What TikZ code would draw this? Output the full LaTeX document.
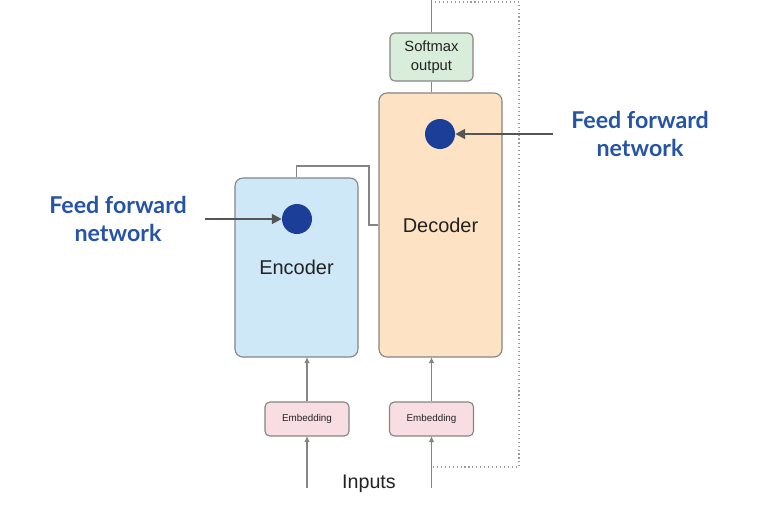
\documentclass[tikz,border=0pt]{standalone}
\usepackage{fontspec}
\setmainfont{Liberation Sans}
\newfontfamily\latofont{Lato}
\usetikzlibrary{arrows.meta}
\definecolor{encfill}{HTML}{CFE8F7}
\definecolor{decfill}{HTML}{FDE2C3}
\definecolor{softfill}{HTML}{D8EEDA}
\definecolor{embfill}{HTML}{F8DDE3}
\definecolor{edgegray}{HTML}{858585}
\definecolor{textgray}{HTML}{222222}
\definecolor{dotblue}{HTML}{1B3F98}
\definecolor{ffblue}{HTML}{2553A6}
\definecolor{arrowgray}{HTML}{555555}
\tikzset{
  block/.style={draw=edgegray, line width=0.8pt, rounded corners=0.2cm, inner sep=0pt, text=textgray, font=\fontsize{14.2}{16}\selectfont},
  smallblock/.style={block, rounded corners=0.12cm, font=\fontsize{7}{8}\selectfont},
  ffdot/.style={circle, fill=dotblue, minimum size=0.75cm, inner sep=0pt},
  fflabel/.style={text=ffblue, align=center, font=\latofont\bfseries\fontsize{16.5}{19.5}\selectfont},
  ffarrow/.style={draw=arrowgray, line width=1.4pt, -{Triangle[length=7pt,width=7pt]}},
  wire/.style={draw=edgegray, line width=0.8pt},
  feed/.style={wire, -{Triangle[length=4pt,width=3.5pt]}},
  loopwire/.style={draw=edgegray!80, line width=0.8pt, dotted}
}
\begin{document}
\begin{tikzpicture}[x=0.025cm, y=-0.025cm]
			%%%%% START %%%%%
			\useasboundingbox (0, 0) rectangle (776, 508);
			
			\node[block, fill=encfill, minimum width=3.075cm, minimum height=4.475cm] (encoder) at (296.5, 267.5) {Encoder};
			\node[block, fill=decfill, minimum width=3.075cm, minimum height=6.6cm] (decoder) at (440.5, 225) {Decoder};
			\node[smallblock, fill=softfill, minimum width=2.075cm, minimum height=1.2cm, align=center, font=\fontsize{10.5}{13.5}\selectfont] (softmax) at (431.5, 57) {Softmax\\output};
			\node[smallblock, fill=embfill, minimum width=2.1cm, minimum height=0.85cm] (embenc) at (307, 419) {Embedding};
			\node[smallblock, fill=embfill, minimum width=2.1cm, minimum height=0.85cm] (embdec) at (431.5, 419) {Embedding};
			
			\node[ffdot] (encdot) at (297, 219) {};
			\node[ffdot] (decdot) at (440, 134) {};
			
			\node[fflabel] (ffenc) at (118, 219) {Feed forward\\network};
			\node[fflabel] (ffdec) at (640, 134) {Feed forward\\network};
			\coordinate (ffencstart) at (205, 219);
			\coordinate (ffdecstart) at (553, 134);
			\draw[ffarrow] (ffencstart) -- (encdot);
			\draw[ffarrow] (ffdecstart) -- (decdot);
			
			\coordinate (bend) at (369, 166);
			\draw[wire] (encoder.north) |- (bend) |- (decoder.west);
			
			\coordinate (top) at (431.5, 0);
			\draw[wire] (softmax.north) -- (top);
			\draw[wire] (softmax.south) -- (softmax.south |- decoder.north);
			
			\coordinate (looptop) at (435, 2);
			\coordinate (loopright) at (519, 2);
			\coordinate (loopbottom) at (519, 467);
			\coordinate (loopend) at (431.5, 467);
			\draw[loopwire] (looptop) -- (loopright) -- (loopbottom) -- (loopend);
			
			\node[text=textgray, font=\fontsize{14}{16}\selectfont] (inputs) at (369, 484) {Inputs};
			\coordinate (inenc) at (307, 488);
			\coordinate (indec) at (431.5, 488);
			\draw[feed] (inenc) -- (embenc);
			\draw[feed] (indec) -- (embdec);
			\draw[feed] (embenc) -- (embenc |- encoder.south);
			\draw[feed] (embdec) -- (embdec |- decoder.south);
			
			%%%%% END %%%%%
		\end{tikzpicture}
\end{document}
